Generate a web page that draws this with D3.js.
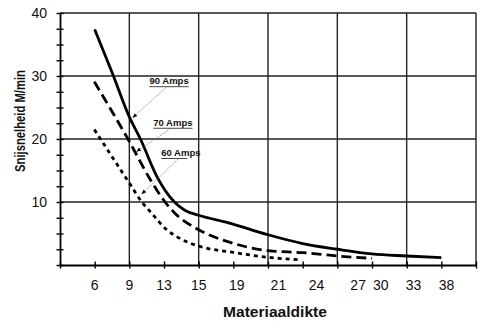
<!DOCTYPE html>
<html><head><meta charset="utf-8">
<script src="https://cdn.jsdelivr.net/npm/d3@7"></script>
<style>
html,body{margin:0;padding:0;background:#fff;}
svg{display:block;}
</style></head>
<body>
<svg id="chart" width="488" height="330"></svg>
<script>
// ---- data ----
const yTickLabels = [10, 20, 30, 40];
const xTickLabels = ["6", "9", "13", "15", "19", "21", "24", "27", "30", "33", "38"];
const xTickLabelSlots = [1, 2, 3, 4, 5.1, 6.3, 7.4, 8.6, 9.25, 10.2, 11.15];

const amps90Slots = [1.0, 1.5, 2, 2.32, 2.8, 3.3, 3.6, 4, 4.86, 6, 7, 8, 9, 10, 11];
const amps90Values = [37.4, 30.6, 23.5, 20, 14, 10, 8.7, 7.9, 6.7, 4.8, 3.4, 2.5, 1.75, 1.43, 1.16];

const amps70Slots = [0.99, 2, 2.6, 3.03, 3.3, 4, 5, 6, 7, 8, 9];
const amps70Values = [29.1, 19.6, 13.6, 10, 8.3, 5.6, 3.44, 2.27, 1.96, 1.43, 1.06];

const amps60Slots = [0.99, 2, 2.36, 2.6, 3.08, 3.5, 4, 5, 6, 6.97];
const amps60Values = [21.5, 13.0, 10, 8.5, 5.6, 4.1, 3.0, 2.0, 1.22, 0.8];

const seriesNames = ["90 Amps", "70 Amps", "60 Amps"];
// annotation label anchor (slot, value) and arrow tip (slot, value)
const labelSlots = [2.58, 2.69, 2.92];
const labelValues = [28.7, 22.1, 17.3];
const arrowTipSlots = [2.10, 2.21, 2.36];
const arrowTipValues = [23.4, 18.0, 11.3];

// ---- chart ----
const svg = d3.select("#chart");
const x = d3.scaleLinear().domain([0, 12]).range([60, 476]);
const y = d3.scaleLinear().domain([0, 40]).range([265, 13]);
const font = "'Liberation Sans', Arial, sans-serif";

// grid
svg.append("g").selectAll("line").data(yTickLabels).join("line")
  .attr("x1", x(0)).attr("x2", x(12))
  .attr("y1", d => y(d)).attr("y2", d => y(d))
  .attr("stroke", "#222").attr("stroke-width", 1.4);
svg.append("g").selectAll("line").data(d3.range(2, 13, 2)).join("line")
  .attr("x1", d => x(d)).attr("x2", d => x(d))
  .attr("y1", y(0)).attr("y2", y(40))
  .attr("stroke", "#222").attr("stroke-width", 1.4);

// y axis (minor ticks crossing)
const yAx = svg.append("g").attr("transform", `translate(${x(0)},0)`)
  .call(d3.axisLeft(y).tickValues(d3.range(0, 40.01, 2.5)).tickFormat("").tickSizeOuter(0));
yAx.select(".domain").attr("stroke", "#000").attr("stroke-width", 1.8);
yAx.selectAll(".tick line").attr("x1", 3.5).attr("x2", -3.5).attr("stroke", "#000").attr("stroke-width", 1.4);

// y labels
const yLab = svg.append("g").attr("transform", `translate(${x(0)},0)`)
  .call(d3.axisLeft(y).tickValues(yTickLabels).tickSize(0).tickPadding(13));
yLab.select(".domain").remove();
yLab.selectAll("text").attr("font-family", font).attr("font-size", 14).attr("fill", "#111");

// x axis
const xAx = svg.append("g").attr("transform", `translate(0,${y(0)})`)
  .call(d3.axisBottom(x).tickValues(d3.range(0, 13)).tickFormat("").tickSizeOuter(0));
xAx.select(".domain").attr("stroke", "#000").attr("stroke-width", 1.8);
xAx.selectAll(".tick line").attr("y1", -3.5).attr("y2", 3.5).attr("stroke", "#000").attr("stroke-width", 1.4);

svg.append("g").selectAll("text").data(xTickLabels).join("text")
  .attr("x", (d, i) => x(xTickLabelSlots[i])).attr("y", 290)
  .attr("text-anchor", "middle").attr("font-family", font).attr("font-size", 14).attr("fill", "#111")
  .text(d => d);

// axis titles
svg.append("text").attr("transform", "translate(25,121) rotate(-90)")
  .attr("text-anchor", "middle").attr("font-family", font).attr("font-weight", "bold")
  .attr("font-size", 15).attr("textLength", 102).attr("lengthAdjust", "spacingAndGlyphs")
  .attr("fill", "#111").text("Snijsnelheid M/min");
svg.append("text").attr("x", 275).attr("y", 316.5)
  .attr("text-anchor", "middle").attr("font-family", font).attr("font-weight", "bold")
  .attr("font-size", 15.5).attr("textLength", 104).attr("lengthAdjust", "spacingAndGlyphs")
  .attr("fill", "#111").text("Materiaaldikte");

// curves
const series = [
  {slots: amps90Slots, values: amps90Values, dash: null},
  {slots: amps70Slots, values: amps70Values, dash: "10,5"},
  {slots: amps60Slots, values: amps60Values, dash: "4,4"}
];
const line = d3.line().x(d => x(d[0])).y(d => y(d[1])).curve(d3.curveMonotoneX);
svg.append("g").selectAll("path").data(series).join("path")
  .attr("d", s => line(s.slots.map((v, i) => [v, s.values[i]])))
  .attr("fill", "none").attr("stroke", "#000").attr("stroke-width", 2.8)
  .attr("stroke-dasharray", s => s.dash);

// annotations
svg.append("defs").append("marker").attr("id", "ah")
  .attr("viewBox", "0 0 10 10").attr("refX", 9).attr("refY", 5)
  .attr("markerWidth", 6).attr("markerHeight", 6).attr("orient", "auto")
  .append("path").attr("d", "M0,1 L10,5 L0,9 Z").attr("fill", "#000");

const ann = svg.append("g");
seriesNames.forEach((name, i) => {
  const lx = x(labelSlots[i]), ly = y(labelValues[i]);
  const t = ann.append("text").attr("x", lx).attr("y", ly)
    .attr("font-family", font).attr("font-weight", "bold").attr("font-size", 9.5)
    .attr("fill", "#111").text(name);
  const w = t.node().getComputedTextLength();
  if (i < 2) {
    ann.append("line").attr("x1", lx).attr("x2", lx + w).attr("y1", ly + 2.5).attr("y2", ly + 2.5)
      .attr("stroke", "#333").attr("stroke-width", 0.9);
  } else {
    ann.append("line").attr("x1", lx).attr("x2", lx + 26).attr("y1", ly + 2.5).attr("y2", ly + 2.5)
      .attr("stroke", "#333").attr("stroke-width", 0.9);
  }
  ann.append("line").attr("x1", lx + 17).attr("y1", ly + 3)
    .attr("x2", x(arrowTipSlots[i])).attr("y2", y(arrowTipValues[i]))
    .attr("stroke", "#777").attr("stroke-width", 0.8).attr("stroke-dasharray", "1.5,1.2")
    .attr("marker-end", "url(#ah)");
});
</script>
</body></html>
